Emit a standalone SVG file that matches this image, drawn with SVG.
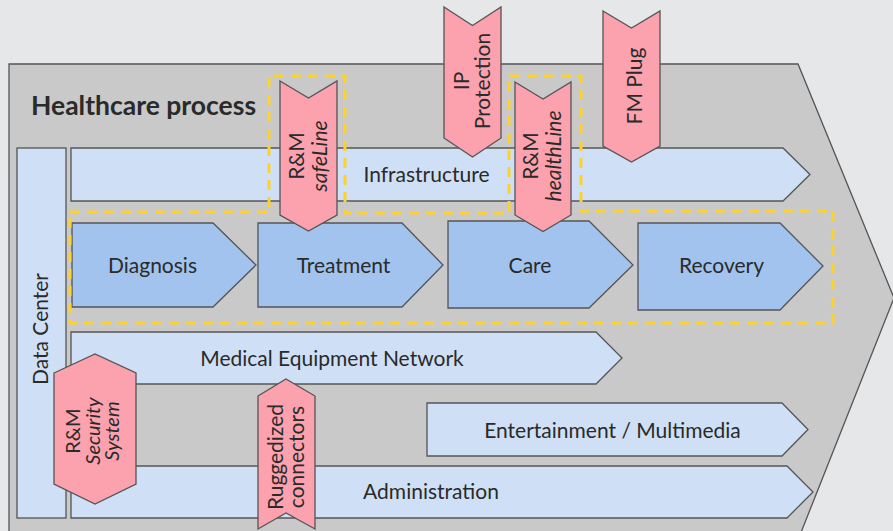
<svg xmlns="http://www.w3.org/2000/svg" width="893" height="531" viewBox="0 0 893 531">
<style>
text{font-family:Lato,"Liberation Sans",sans-serif;fill:#2a2a2a;}
.lb{font-size:21px;text-anchor:middle;}
.pk{fill:#fca1ae;stroke:#555;stroke-width:1.3;}
.lt{fill:#cfe0f6;stroke:#555;stroke-width:1.3;}
.md{fill:#a1c3ed;stroke:#555;stroke-width:1.3;}
.it{font-style:italic;}
</style>
<rect x="0" y="0" width="893" height="531" fill="#e6e7e9"/>
<g id="frame">
<polygon points="9,64 798,64 894,298 798,540 9,540" fill="#c9c9c9" stroke="#555" stroke-width="1.3"/>
<text x="31" y="115" style="font-size:26.5px;font-weight:bold">Healthcare process</text>
</g>
<g id="data-center">
<rect class="lt" x="17" y="148" width="49" height="370"/>
<text class="lb" transform="translate(48,329) rotate(-90)" x="0" y="0">Data Center</text>
</g>
<g id="infrastructure">
<polygon class="lt" points="71,148 783,148 810,174.5 783,201 71,201"/>
<text class="lb" x="426.5" y="182">Infrastructure</text>
</g>
<g id="diagnosis">
<polygon class="md" points="72,223 213,223 256,265 213,307 72,307"/>
<text class="lb" x="152.5" y="273">Diagnosis</text>
</g>
<g id="treatment">
<polygon class="md" points="258,223 402,223 443,265 402,307 258,307"/>
<text class="lb" x="343.5" y="273">Treatment</text>
</g>
<g id="care">
<polygon class="md" points="448,221 589,221 633,265 589,308 448,308"/>
<text class="lb" x="530" y="273">Care</text>
</g>
<g id="recovery">
<polygon class="md" points="638,223 780,223 823,266 780,310 638,310"/>
<text class="lb" x="721.5" y="273">Recovery</text>
</g>
<g id="medical-equipment-network">
<polygon class="lt" points="71,332 596,332 622,358 596,384 71,384"/>
<text class="lb" x="332" y="365.5">Medical Equipment Network</text>
</g>
<g id="entertainment">
<polygon class="lt" points="427,403 782,403 808,429.5 782,456 427,456"/>
<text class="lb" x="612.5" y="437.5">Entertainment / Multimedia</text>
</g>
<g id="administration">
<polygon class="lt" points="71,466 787,466 813,492 787,518 71,518"/>
<text class="lb" x="431" y="498.5">Administration</text>
</g>
<g id="highlight">
<path d="M70,212 H269 V76 H345 V213 H509 V76 H581 V211 H833 V323 H70 Z" fill="none" stroke="#fcd22b" stroke-width="3" stroke-dasharray="10 7"/>
</g>
<g id="safeline">
<polygon class="pk" points="280,81 308.5,98 337,81 337,215 308.5,231 280,215"/>
<text class="lb" transform="translate(308.5,156) rotate(-90)"><tspan x="0" y="-5">R&amp;M</tspan><tspan class="it" x="0" y="18">safeLine</tspan></text>
</g>
<g id="ip-protection">
<polygon class="pk" points="444,7 472.5,25.5 501,7 501,138 472.5,157 444,138"/>
<text class="lb" transform="translate(472.5,81) rotate(-90)"><tspan x="0" y="-4">IP</tspan><tspan x="0" y="17.5">Protection</tspan></text>
</g>
<g id="healthline">
<polygon class="pk" points="515,82 543,99 571,82 571,215 543,231.5 515,215"/>
<text class="lb" transform="translate(543,156) rotate(-90)"><tspan x="0" y="-5">R&amp;M</tspan><tspan class="it" x="0" y="18">healthLine</tspan></text>
</g>
<g id="fm-plug">
<polygon class="pk" points="603,11 631.5,28 660,11 660,146 631.5,162 603,146"/>
<text class="lb" transform="translate(631.5,86) rotate(-90)" x="0" y="10">FM Plug</text>
</g>
<g id="ruggedized">
<polygon class="pk" points="258,396 286,379 315,396 315,529 286,513 258,529"/>
<text class="lb" transform="translate(286.5,457) rotate(-90)"><tspan x="0" y="-3.5">Ruggedized</tspan><tspan x="0" y="17.5">connectors</tspan></text>
</g>
<g id="security-system">
<polygon class="pk" points="54,373 95,354 136,373 136,484 95,504 54,484"/>
<text class="lb" transform="translate(93,431) rotate(-90)" style="font-size:20px"><tspan x="0" y="-13">R&amp;M</tspan><tspan class="it" x="0" y="6.5">Security</tspan><tspan class="it" x="0" y="26">System</tspan></text>
</g>
<g id="connectors"></g>
</svg>
